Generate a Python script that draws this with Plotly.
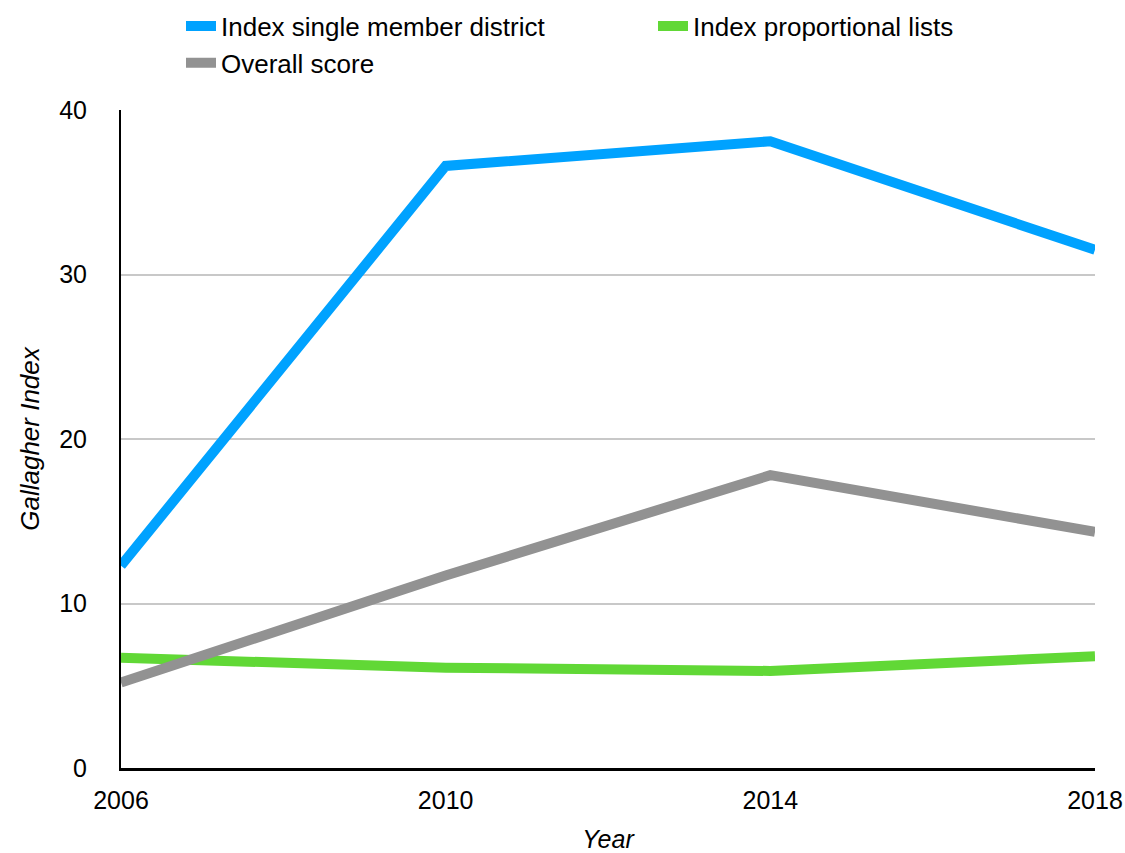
import plotly.graph_objects as go

years = [2006, 2010, 2014, 2018]
smd = [12.3, 36.6, 38.1, 31.5]
prop = [6.7, 6.1, 5.9, 6.8]
overall = [5.2, 11.7, 17.8, 14.35]

FONT = "Liberation Sans"

fig = go.Figure()
fig.add_trace(go.Scatter(x=years, y=smd, mode="lines", name="Index single member district",
                         line=dict(color="#00A2FF", width=10)))
fig.add_trace(go.Scatter(x=years, y=prop, mode="lines", name="Index proportional lists",
                         line=dict(color="#61D836", width=10)))
fig.add_trace(go.Scatter(x=years, y=overall, mode="lines", name="Overall score",
                         line=dict(color="#929292", width=10)))

fig.update_layout(
    width=1125, height=853,
    margin=dict(l=121, r=30, t=110, b=85),
    paper_bgcolor="white", plot_bgcolor="white",
    font=dict(family=FONT, size=25, color="black"),
    legend=dict(orientation="h", x=0.098, xanchor="left", y=0.997, yanchor="top",
                yref="container", entrywidth=427, entrywidthmode="pixels",
                font=dict(size=26), itemwidth=30, tracegroupgap=0,
                bgcolor="rgba(0,0,0,0)"),
    xaxis=dict(range=[2006, 2018], tickvals=years, ticktext=[str(y) for y in years],
               showgrid=False, zeroline=False, showline=True, linecolor="black", linewidth=3,
               ticks="", ticklabelstandoff=8, automargin=False,
               title=dict(text="<i>Year</i>", font=dict(size=25), standoff=36)),
    yaxis=dict(range=[0, 40], tickvals=[0, 10, 20, 30, 40], showgrid=True,
               gridcolor="#c8c8c8", gridwidth=1.5, zeroline=False, showline=True,
               linecolor="black", linewidth=2, ticks="", ticklabelstandoff=27, automargin=False,
               title=dict(text="<i>Gallagher Index</i>", font=dict(size=26), standoff=12)),
)

fig.write_html("out.html")
